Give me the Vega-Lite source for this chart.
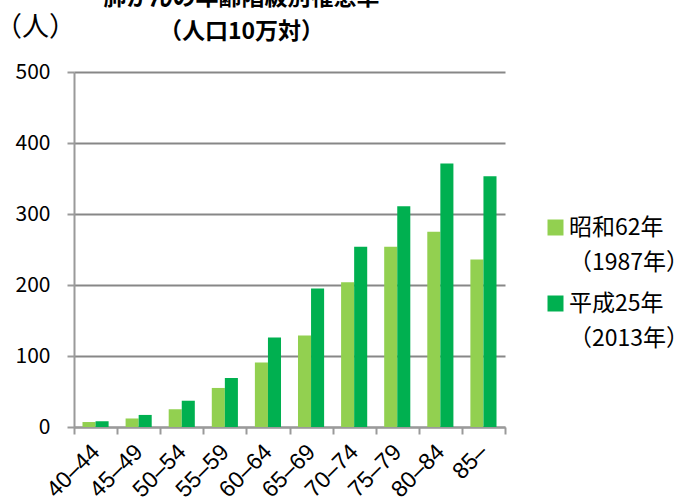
{
  "$schema": "https://vega.github.io/schema/vega-lite/v6.json",
  "autosize": {"type": "none"},
  "padding": {"left": 74, "top": 72, "right": 171, "bottom": 76},
  "width": 431,
  "height": 355,
  "title": {
    "text": ["肺がんの年齢階級別罹患率", "（人口10万対）"],
    "anchor": "middle",
    "dx": -48,
    "offset": -31,
    "font": "Noto Sans CJK JP",
    "fontSize": 23,
    "fontWeight": "bold",
    "lineHeight": 34,
    "color": "#000000"
  },
  "data": {
    "values": [
      {"age": "40–44", "year": "昭和62年|（1987年）", "rate": 7},
      {"age": "45–49", "year": "昭和62年|（1987年）", "rate": 12},
      {"age": "50–54", "year": "昭和62年|（1987年）", "rate": 25},
      {"age": "55–59", "year": "昭和62年|（1987年）", "rate": 55},
      {"age": "60–64", "year": "昭和62年|（1987年）", "rate": 91},
      {"age": "65–69", "year": "昭和62年|（1987年）", "rate": 129},
      {"age": "70–74", "year": "昭和62年|（1987年）", "rate": 204},
      {"age": "75–79", "year": "昭和62年|（1987年）", "rate": 254},
      {"age": "80–84", "year": "昭和62年|（1987年）", "rate": 275},
      {"age": "85–", "year": "昭和62年|（1987年）", "rate": 236},
      {"age": "40–44", "year": "平成25年|（2013年）", "rate": 8},
      {"age": "45–49", "year": "平成25年|（2013年）", "rate": 17},
      {"age": "50–54", "year": "平成25年|（2013年）", "rate": 37},
      {"age": "55–59", "year": "平成25年|（2013年）", "rate": 69},
      {"age": "60–64", "year": "平成25年|（2013年）", "rate": 126},
      {"age": "65–69", "year": "平成25年|（2013年）", "rate": 195},
      {"age": "70–74", "year": "平成25年|（2013年）", "rate": 254},
      {"age": "75–79", "year": "平成25年|（2013年）", "rate": 311},
      {"age": "80–84", "year": "平成25年|（2013年）", "rate": 371},
      {"age": "85–", "year": "平成25年|（2013年）", "rate": 353}
    ]
  },
  "mark": {"type": "bar"},
  "encoding": {
    "x": {
      "field": "age",
      "type": "nominal",
      "sort": null,
      "scale": {"paddingInner": 0, "paddingOuter": 0},
      "axis": {
        "title": null,
        "labelAngle": -45,
        "labelAlign": "right",
        "labelBaseline": "middle",
        "labelFont": "Liberation Sans",
        "labelFontSize": 23,
        "labelColor": "#000000",
        "labelPadding": 14,
        "tickBand": "extent",
        "tickSize": 7,
        "tickWidth": 2,
        "tickColor": "#9a9a9a",
        "domainColor": "#9a9a9a",
        "domainWidth": 2,
        "grid": false
      }
    },
    "xOffset": {
      "field": "year",
      "type": "nominal",
      "sort": ["昭和62年|（1987年）", "平成25年|（2013年）"],
      "scale": {"paddingInner": 0, "paddingOuter": 0.65}
    },
    "y": {
      "field": "rate",
      "type": "quantitative",
      "scale": {"domain": [0, 500], "nice": false},
      "axis": {
        "values": [0, 100, 200, 300, 400, 500],
        "title": "（人）",
        "titleAngle": 0,
        "titleX": -39,
        "titleY": -45,
        "titleAlign": "center",
        "titleBaseline": "middle",
        "titleFont": "Noto Sans CJK JP",
        "titleFontSize": 27,
        "titleFontWeight": "normal",
        "titleColor": "#000000",
        "labelFont": "Noto Sans CJK JP",
        "labelFontSize": 21,
        "labelColor": "#000000",
        "labelPadding": 17,
        "tickSize": 7,
        "tickWidth": 2,
        "tickColor": "#9a9a9a",
        "domainColor": "#9a9a9a",
        "domainWidth": 2,
        "grid": true,
        "gridColor": "#878787",
        "gridWidth": 2
      }
    },
    "color": {
      "field": "year",
      "type": "nominal",
      "sort": ["昭和62年|（1987年）", "平成25年|（2013年）"],
      "scale": {"domain": ["昭和62年|（1987年）", "平成25年|（2013年）"], "range": ["#92D050", "#00B050"]},
      "legend": {
        "title": null,
        "orient": "none",
        "legendX": 470,
        "legendY": 144,
        "labelExpr": "split(datum.label, '|')",
        "labelFont": "Noto Sans CJK JP",
        "labelFontSize": 23,
        "labelColor": "#000000",
        "labelBaseline": "middle",
        "labelLimit": 0,
        "labelOffset": 2,
        "rowPadding": 17,
        "symbolType": "square",
        "symbolSize": 256,
        "symbolStrokeWidth": 0,
        "symbolOpacity": 1
      }
    }
  },
  "config": {
    "view": {"stroke": null},
    "style": {"guide-label": {"lineHeight": 35}}
  }
}
